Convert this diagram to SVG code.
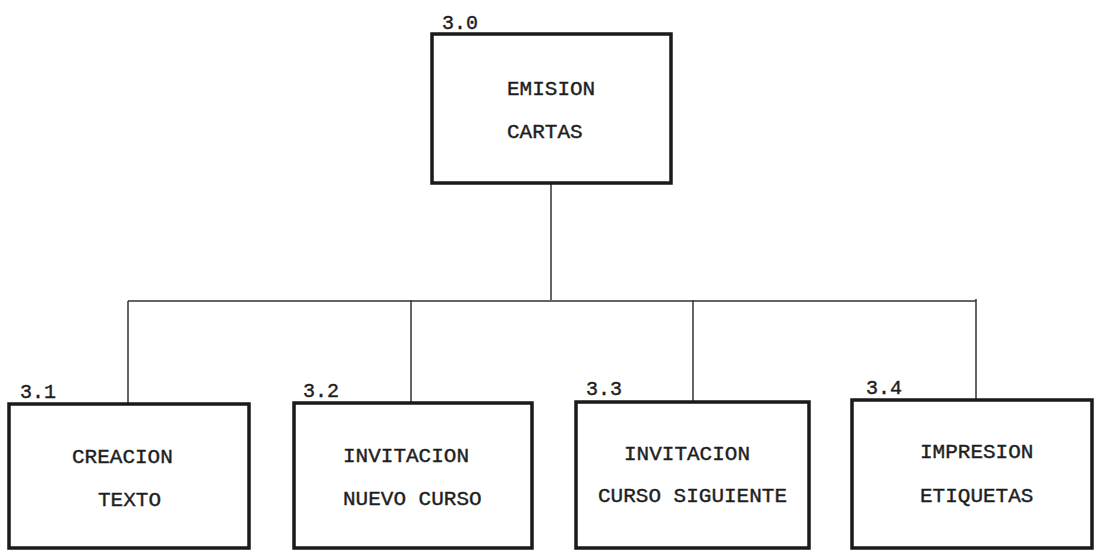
<svg xmlns="http://www.w3.org/2000/svg" width="1095" height="550" viewBox="0 0 1095 550">
<style>
.box{fill:#fff;stroke:#1a1a1a;stroke-width:3.5}
.conn{fill:none;stroke:#333;stroke-width:1.5}
.t{font-family:"Liberation Mono","DejaVu Sans Mono",monospace;font-size:21px;fill:#1e1e1e;stroke:#1e1e1e;stroke-width:0.4}
.n{font-family:"Liberation Mono","DejaVu Sans Mono",monospace;font-size:20px;fill:#1e1e1e;stroke:#1e1e1e;stroke-width:0.4}
</style>
<rect width="1095" height="550" fill="#fff"/>
<g id="connectors">
<path class="conn" d="M551 183V300M128 301H976M128 301V404M411 300V403M693 300V402M976 299V400"/>
</g>
<g id="n3_0">
<rect class="box" x="432" y="34" width="239" height="149"/>
<text class="n" x="442" y="29">3.0</text>
<text class="t" x="507" y="95">EMISION</text>
<text class="t" x="507" y="138">CARTAS</text>
</g>
<g id="n3_1">
<rect class="box" x="9" y="404" width="240" height="144"/>
<text class="n" x="20" y="398">3.1</text>
<text class="t" x="72" y="463">CREACION</text>
<text class="t" x="98" y="506">TEXTO</text>
</g>
<g id="n3_2">
<rect class="box" x="294" y="403" width="238" height="145"/>
<text class="n" x="303" y="397">3.2</text>
<text class="t" x="343" y="462">INVITACION</text>
<text class="t" x="343" y="505">NUEVO CURSO</text>
</g>
<g id="n3_3">
<rect class="box" x="576" y="402" width="233" height="146"/>
<text class="n" x="586" y="395">3.3</text>
<text class="t" x="624" y="460">INVITACION</text>
<text class="t" x="598" y="502">CURSO SIGUIENTE</text>
</g>
<g id="n3_4">
<rect class="box" x="852" y="400" width="240" height="148"/>
<text class="n" x="866" y="394">3.4</text>
<text class="t" x="920" y="458">IMPRESION</text>
<text class="t" x="920" y="502">ETIQUETAS</text>
</g>
</svg>
